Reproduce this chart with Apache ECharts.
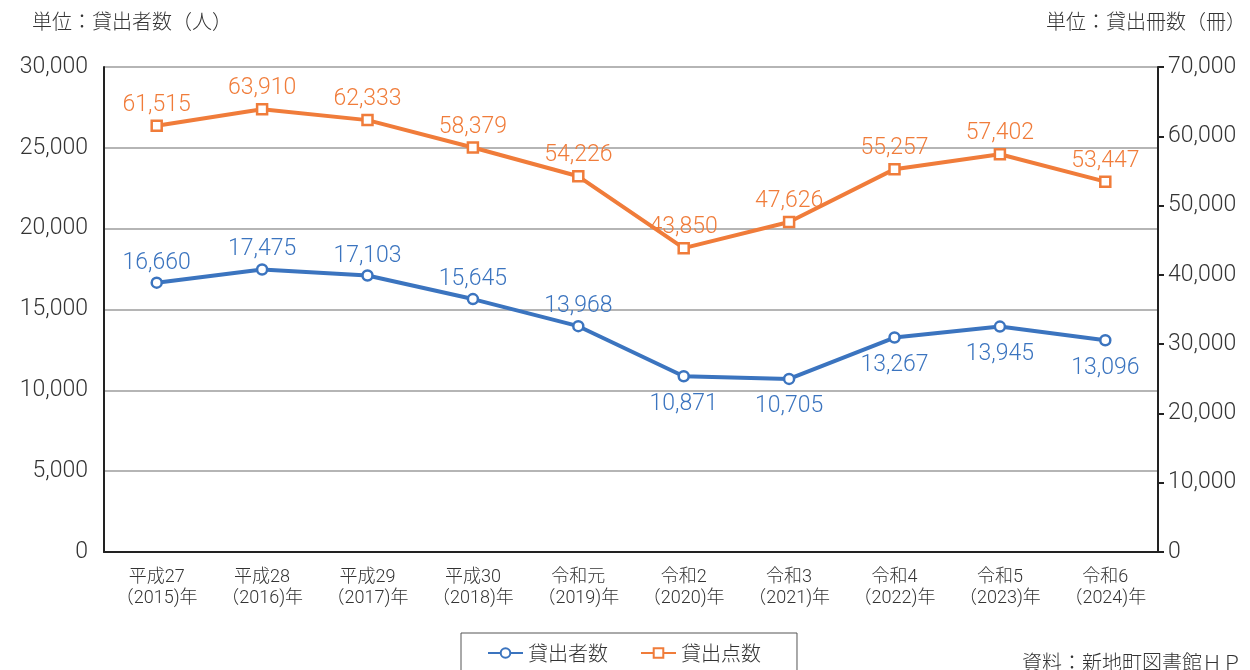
<!DOCTYPE html>
<html><head><meta charset="utf-8">
<script src="https://cdn.jsdelivr.net/npm/echarts@6/dist/echarts.min.js"></script>
<style>html,body{margin:0;padding:0;background:#fff}#c{width:1250px;height:670px}</style>
</head><body><div id="c"></div>
<script>
const categories = ['平成27\n（2015)年','平成28\n（2016)年','平成29\n（2017)年','平成30\n（2018)年','令和元\n（2019)年','令和2\n（2020)年','令和3\n（2021)年','令和4\n（2022)年','令和5\n（2023)年','令和6\n（2024)年'];
const borrowers = [16660,17475,17103,15645,13968,10871,10705,13267,13945,13096];
const items = [61515,63910,62333,58379,54226,43850,47626,55257,57402,53447];
const leftTicks = [0,5000,10000,15000,20000,25000,30000];
const rightTicks = [0,10000,20000,30000,40000,50000,60000,70000];
const blueLabelPos = ['top','top','top','top','top','bottom','bottom','bottom','bottom','bottom'];

const FONT = 'Roboto, "Noto Sans CJK JP", sans-serif';
const JFONT = '"Noto Sans CJK JP", sans-serif';
const BLUE = '#3b74bf', ORANGE = '#f07c3a';
const fmt = v => v.toLocaleString('en-US');

const chart = echarts.init(document.getElementById('c'));
chart.setOption({
  animation: false,
  textStyle: {fontFamily: FONT},
  grid: {left: 104, right: 92, top: 67, bottom: 118},
  graphic: [
    {type:'text', left: 32, top: 11, style:{text:'単位：貸出者数（人）', font:'300 20px '+JFONT, fill:'#333'}},
    {type:'text', right: 4, top: 11, style:{text:'単位：貸出冊数（冊）', font:'300 20px '+JFONT, fill:'#333'}},
    {type:'text', left: 1022, top: 652, style:{text:'資料：新地町図書館ＨＰ', font:'300 20px '+JFONT, fill:'#333'}}
  ],
  legend: {
    left: 461, top: 633, width: 340,
    padding: [10, 36, 20, 26], itemGap: 32,
    borderColor: '#555', borderWidth: 1,
    itemWidth: 35, itemHeight: 12,
    textStyle: {fontSize: 20, fontWeight: 300, color: '#333', fontFamily: JFONT},
    data: ['貸出者数','貸出点数']
  },
  xAxis: {
    type: 'category', data: categories, boundaryGap: true,
    axisLine: {lineStyle: {color: '#222', width: 2}},
    axisTick: {alignWithLabel: true, interval: 0, length: 5, lineStyle: {color: '#222', width: 2}},
    axisLabel: {interval: 0, fontSize: 18, fontWeight: 300, color: '#333', lineHeight: 21, margin: 15, fontFamily: FONT}
  },
  yAxis: [
    {type: 'value', min: 0, max: 30000, interval: 5000,
     axisLine: {show: true, lineStyle: {color: '#222', width: 2}},
     axisTick: {show: false},
     splitLine: {lineStyle: {color: '#b5b5b5', width: 2}},
     axisLabel: {fontSize: 23, fontWeight: 300, color: '#333', margin: 16, formatter: v => leftTicks.includes(v) ? fmt(v) : ''}},
    {type: 'value', min: 0, max: 70000, interval: 10000,
     axisLine: {show: true, lineStyle: {color: '#222', width: 2}},
     axisTick: {show: true, length: 6, lineStyle: {color: '#222', width: 2}},
     splitLine: {show: false},
     axisLabel: {fontSize: 23, fontWeight: 300, color: '#333', margin: 10, formatter: v => rightTicks.includes(v) ? fmt(v) : ''}}
  ],
  series: [
    {name: '貸出者数', type: 'line', yAxisIndex: 0,
     data: borrowers.map((v,i) => ({value: v, label: {position: blueLabelPos[i], distance: blueLabelPos[i] === 'top' ? 2 : 10}})),
     symbol: 'circle', symbolSize: 10,
     lineStyle: {color: BLUE, width: 4},
     itemStyle: {color: '#fff', borderColor: BLUE, borderWidth: 2.5},
     label: {show: true, fontSize: 23, fontWeight: 300, color: BLUE, formatter: p => fmt(p.value)}},
    {name: '貸出点数', type: 'line', yAxisIndex: 1, data: items,
     symbol: 'rect', symbolSize: 10,
     lineStyle: {color: ORANGE, width: 4},
     itemStyle: {color: '#fff', borderColor: ORANGE, borderWidth: 2.5},
     label: {show: true, position: 'top', fontSize: 23, fontWeight: 300, color: ORANGE, distance: 3, formatter: p => fmt(p.value)}}
  ]
});
</script></body></html>
